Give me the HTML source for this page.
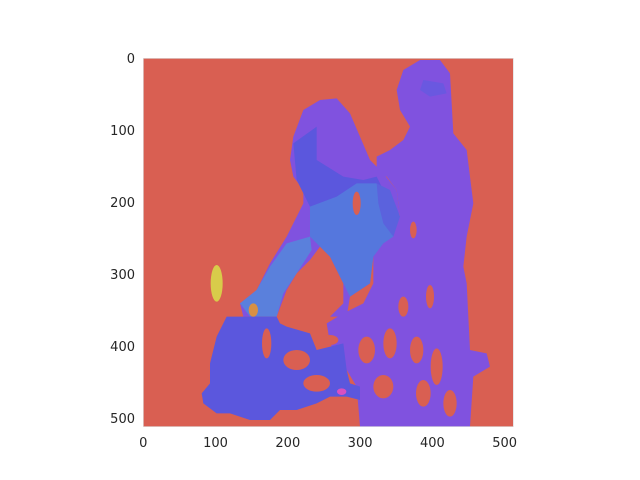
<!DOCTYPE html>
<html><head><meta charset="utf-8"><style>
body{margin:0;background:#fff;width:640px;height:480px;overflow:hidden;position:relative;font-family:"DejaVu Sans","Liberation Sans",sans-serif}
.t{position:absolute;font-size:13px;color:#262626}
</style></head><body>
<svg style="position:absolute;left:130px;top:50px" width="400" height="390" viewBox="0 0 1200 1170">
<defs><clipPath id="c"><rect x="40" y="25" width="1110" height="1105"/></clipPath></defs>
<g clip-path="url(#c)">
<rect x="40" y="25" width="1110" height="1105" fill="#d95f52"/>
<polygon fill="#8052df" points="820,60 870,30 930,30 960,70 970,250 1010,300 1030,460 1010,560 1000,650 1010,700 1020,900 1070,910 1080,950 1030,980 1020,1130 690,1130 680,1010 650,960 600,880 590,820 640,790 700,760 730,700 730,620 760,560 810,500 800,420 770,380 740,370 740,320 780,300 820,270 840,230 810,180 800,120"/>
<polygon fill="#8052df" points="520,180 570,150 620,145 660,190 690,260 720,330 760,370 800,420 810,500 770,560 730,620 720,700 660,740 650,800 600,800 640,760 640,700 600,620 570,590 540,630 500,670 470,720 440,800 340,800 330,760 380,720 420,640 470,560 520,460 520,420 490,380 480,330 490,260"/>
<polygon fill="#5b57dd" points="490,280 560,230 560,330 640,380 700,390 740,380 760,420 680,420 620,460 540,470 500,390"/>
<polygon fill="#5577dd" points="540,470 620,440 680,400 740,400 760,470 800,520 790,560 760,580 730,620 720,700 660,740 640,700 600,620 570,590 540,560"/>
<polygon fill="#5b62dd" points="740,400 780,420 810,500 790,560 760,520 745,460"/>
<polygon fill="#5a80dc" points="470,580 540,560 545,600 500,670 460,730 440,800 360,800 330,760 380,720 420,650"/>
<polygon fill="#5b57dd" points="290,800 440,800 450,820 470,830 540,850 560,900 640,880 650,960 660,1000 690,1010 690,1050 650,1040 600,1040 560,1060 500,1080 450,1080 420,1110 360,1110 300,1090 260,1090 220,1060 215,1030 240,1000 240,940 260,860"/>
<polygon fill="#6a58e0" points="880,90 940,100 950,130 900,140 870,120"/>
<g fill="#d95f52">
<ellipse cx="410" cy="880" rx="14" ry="45"/><ellipse cx="680" cy="460" rx="12" ry="35"/>
<ellipse cx="500" cy="930" rx="40" ry="30"/><ellipse cx="560" cy="1000" rx="40" ry="25"/>
<ellipse cx="710" cy="900" rx="25" ry="40"/><ellipse cx="780" cy="880" rx="20" ry="45"/>
<ellipse cx="860" cy="900" rx="20" ry="40"/><ellipse cx="920" cy="950" rx="18" ry="55"/>
<ellipse cx="760" cy="1010" rx="30" ry="35"/><ellipse cx="880" cy="1030" rx="22" ry="40"/>
<ellipse cx="960" cy="1060" rx="20" ry="40"/><ellipse cx="900" cy="740" rx="12" ry="35"/>
<ellipse cx="850" cy="540" rx="10" ry="25"/><ellipse cx="820" cy="770" rx="15" ry="30"/>
<ellipse cx="600" cy="870" rx="25" ry="15"/>
</g>
<ellipse cx="260" cy="700" rx="18" ry="55" fill="#d8cc4a"/>
<ellipse cx="370" cy="780" rx="14" ry="20" fill="#d89045"/>
<ellipse cx="635" cy="1025" rx="14" ry="10" fill="#d850c0"/>
</g>
<rect x="40" y="25" width="1110" height="1105" fill="none" stroke="#ddd" stroke-width="2"/>
</svg>
<div id="ticks"></div>
<script>
const xTicks=[0,100,200,300,400,500];
const yTicks=[0,100,200,300,400,500];
const sx=v=>143.3+v*370/512, sy=v=>58.3+v*368.4/512;
const host=document.getElementById('ticks');
xTicks.forEach(v=>{const d=document.createElement('div');d.className='t';d.textContent=v;


d.style.left=(sx(v)-20)+'px';d.style.width='40px';d.style.textAlign='center';d.style.top='436px';host.appendChild(d);});
yTicks.forEach(v=>{const d=document.createElement('div');d.className='t';d.textContent=v;


d.style.left='80px';d.style.width='55px';d.style.textAlign='right';d.style.top=(sy(v)-6)+'px';host.appendChild(d);});
</script>
</body></html>
